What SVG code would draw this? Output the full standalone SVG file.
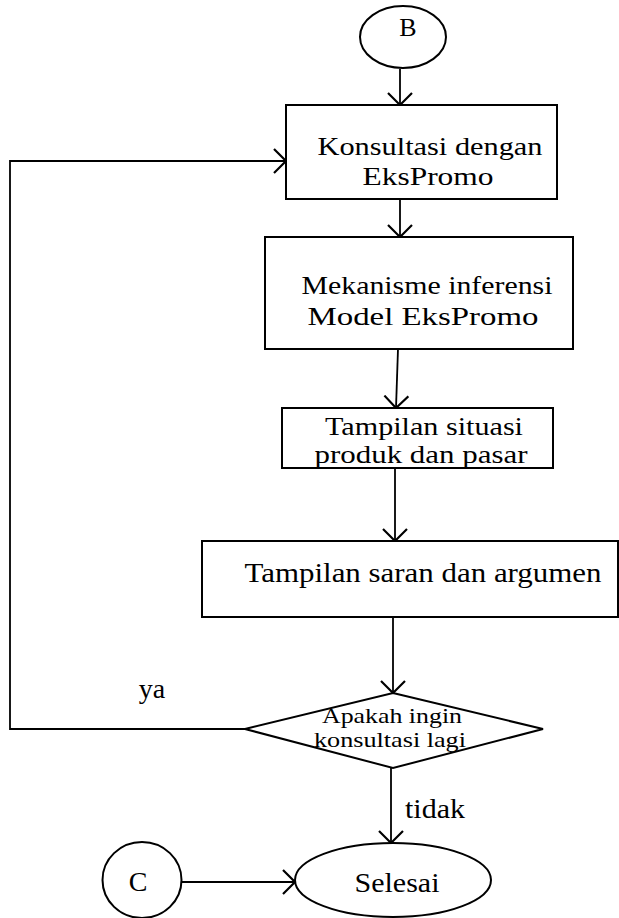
<svg xmlns="http://www.w3.org/2000/svg" width="619" height="918" viewBox="0 0 619 918">
  <style>
    .shape { fill: #ffffff; stroke: #000000; stroke-width: 2; }
    .wire { fill: none; stroke: #000000; stroke-width: 1.8; }
    .lbl { font-family: "Liberation Serif", "DejaVu Serif", serif; fill: #000000; text-anchor: middle; }
    .t26 { font-size: 26px; }
    .t28 { font-size: 28px; }
    .t21 { font-size: 21px; }
  </style>
  <defs>
    <!-- open V arrowhead, tip at the line end -->
    <marker id="vhead" markerUnits="userSpaceOnUse" markerWidth="16" markerHeight="26" refX="13" refY="13" orient="auto" viewBox="0 0 16 26">
      <path d="M1,1 L13,13 L1,25" fill="none" stroke="#000000" stroke-width="2.2"/>
    </marker>
  </defs>
  <rect width="619" height="918" fill="#ffffff"/>

  <!-- connectors -->
  <g id="connectors">
    <line class="wire" x1="400" y1="69" x2="400" y2="105" marker-end="url(#vhead)"/>
    <line class="wire" x1="400" y1="199" x2="400" y2="237" marker-end="url(#vhead)"/>
    <line class="wire" x1="398" y1="349" x2="396" y2="408" marker-end="url(#vhead)"/>
    <line class="wire" x1="395" y1="468" x2="395" y2="541" marker-end="url(#vhead)"/>
    <line class="wire" x1="393" y1="617" x2="393" y2="693" marker-end="url(#vhead)"/>
    <line class="wire" x1="391" y1="768" x2="391" y2="843" marker-end="url(#vhead)"/>
    <polyline class="wire" points="245,729 10,729 10,161 286,161" marker-end="url(#vhead)"/>
    <line class="wire" x1="182" y1="882" x2="295" y2="882" marker-end="url(#vhead)"/>
    <text class="lbl t28" x="152" y="698">ya</text>
    <text class="lbl t28" x="435" y="818" textLength="60" lengthAdjust="spacingAndGlyphs">tidak</text>
  </g>

  <g id="node-b">
    <ellipse class="shape" cx="403" cy="37" rx="43" ry="31"/>
    <text class="lbl" style="font-size:26px" x="408" y="36">B</text>
  </g>

  <g id="node-konsultasi">
    <rect class="shape" x="286" y="105" width="271" height="94"/>
    <text class="lbl t26" x="430" y="155" textLength="225" lengthAdjust="spacingAndGlyphs">Konsultasi dengan</text>
    <text class="lbl t26" x="428" y="185" textLength="131" lengthAdjust="spacingAndGlyphs">EksPromo</text>
  </g>

  <g id="node-mekanisme">
    <rect class="shape" x="265" y="237" width="308" height="112"/>
    <text class="lbl t26" x="427" y="294" textLength="251" lengthAdjust="spacingAndGlyphs">Mekanisme inferensi</text>
    <text class="lbl t26" x="423" y="325" textLength="231" lengthAdjust="spacingAndGlyphs">Model EksPromo</text>
  </g>

  <g id="node-situasi">
    <rect class="shape" x="282" y="408" width="271" height="60"/>
    <text class="lbl t26" x="424" y="435" textLength="198" lengthAdjust="spacingAndGlyphs">Tampilan situasi</text>
    <text class="lbl t26" x="421" y="463" textLength="213" lengthAdjust="spacingAndGlyphs">produk dan pasar</text>
  </g>

  <g id="node-saran">
    <rect class="shape" x="202" y="541" width="416" height="76"/>
    <text class="lbl t28" x="423" y="582" textLength="357" lengthAdjust="spacingAndGlyphs">Tampilan saran dan argumen</text>
  </g>

  <g id="node-keputusan">
    <polygon class="shape" points="393,693 543,729 393,768 245,729"/>
    <text class="lbl t21" x="392" y="723" textLength="140" lengthAdjust="spacingAndGlyphs">Apakah ingin</text>
    <text class="lbl t21" x="390" y="747" textLength="152" lengthAdjust="spacingAndGlyphs">konsultasi lagi</text>
  </g>

  <g id="node-c">
    <ellipse class="shape" cx="142" cy="880" rx="39.5" ry="38"/>
    <text class="lbl t28" x="138" y="891">C</text>
  </g>

  <g id="node-selesai">
    <ellipse class="shape" cx="393" cy="880" rx="98" ry="37"/>
    <text class="lbl t28" x="397" y="892" textLength="85" lengthAdjust="spacingAndGlyphs">Selesai</text>
  </g>
</svg>
